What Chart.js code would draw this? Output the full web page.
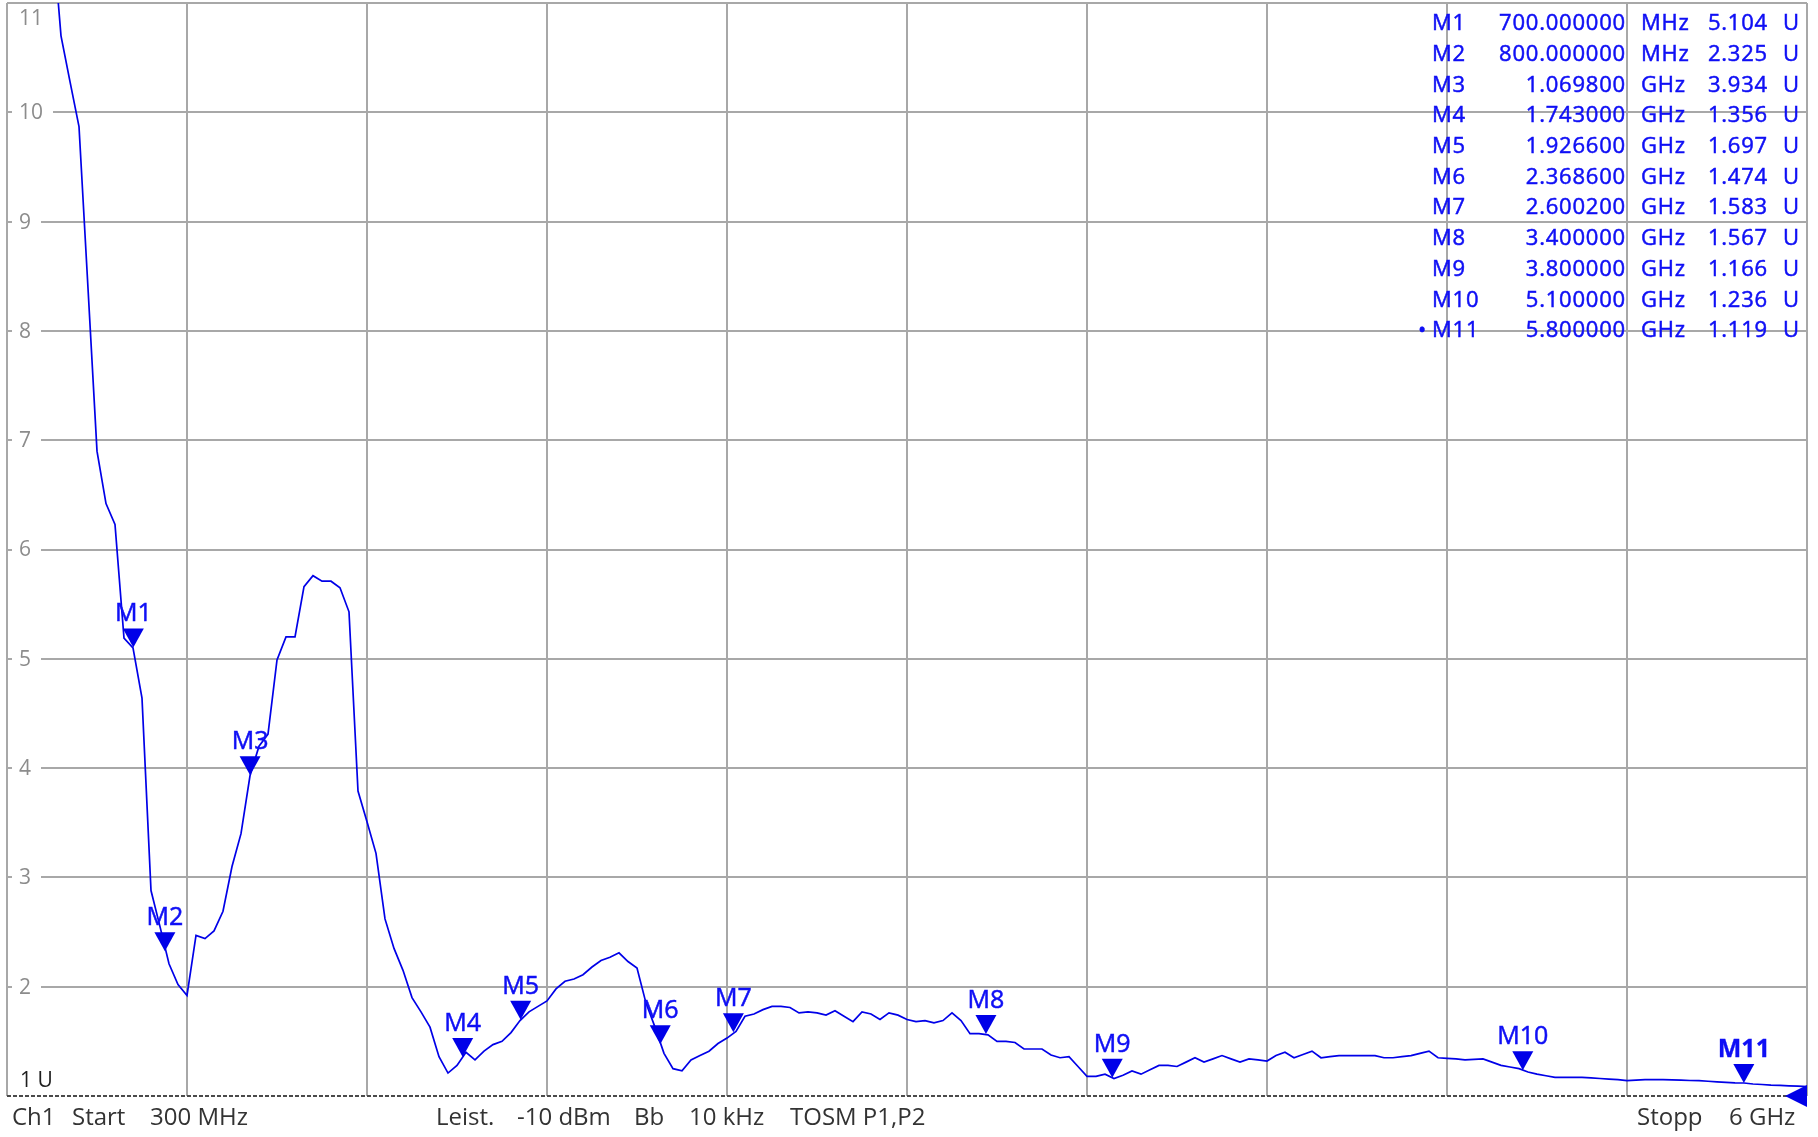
<!DOCTYPE html>
<html>
<head>
<meta charset="utf-8">
<script src="https://cdn.jsdelivr.net/npm/chart.js@4.4.1/dist/chart.umd.min.js"></script>
<style>
html,body{margin:0;padding:0;background:#fff;overflow:hidden}
#wrap{width:1818px;height:1137px;position:relative}
</style>
</head>
<body>
<div id="wrap"><canvas id="c" width="1818" height="1137"></canvas></div>
<script>
// ---- sweep definition ----
const sweepStartMHz = 300;
const sweepStopMHz = 6000;
const sweepPoints = 201;
const xDivisions = 10;
const yMin = 1;
const yMax = 11;

// ---- trace values (VSWR, U) per sweep point; first points are above the top of the screen ----
const vswr = [
  null,null,null,null,null,11.7,10.70,10.28,9.87,8.39,
  6.90,6.42,6.23,5.19,5.10,4.64,2.88,2.55,2.21,2.02,
  1.92,2.47,2.44,2.51,2.69,3.10,3.40,3.93,4.20,4.31,
  4.99,5.20,5.20,5.66,5.76,5.71,5.71,5.65,5.43,3.79,
  3.51,3.22,2.62,2.35,2.15,1.90,1.77,1.63,1.36,1.21,
  1.28,1.40,1.33,1.41,1.47,1.50,1.58,1.69,1.77,1.82,
  1.87,1.98,2.05,2.07,2.11,2.18,2.24,2.27,2.31,2.23,
  2.17,1.85,1.63,1.39,1.25,1.23,1.33,1.37,1.41,1.48,
  1.53,1.59,1.73,1.75,1.79,1.82,1.82,1.81,1.76,1.77,
  1.76,1.74,1.78,1.73,1.68,1.77,1.75,1.70,1.76,1.74,
  1.70,1.68,1.69,1.67,1.69,1.76,1.69,1.57,1.57,1.56,
  1.50,1.50,1.49,1.43,1.43,1.43,1.375,1.35,1.36,1.27,
  1.18,1.18,1.20,1.16,1.19,1.23,1.20,1.24,1.28,1.28,
  1.27,1.31,1.35,1.31,1.34,1.37,1.34,1.31,1.34,1.33,
  1.32,1.37,1.40,1.35,1.38,1.41,1.35,1.36,1.37,1.37,
  1.37,1.37,1.37,1.35,1.35,1.36,1.37,1.39,1.41,1.35,
  1.345,1.34,1.33,1.335,1.34,1.31,1.28,1.265,1.25,1.22,
  1.20,1.185,1.17,1.17,1.17,1.17,1.165,1.16,1.155,1.15,
  1.14,1.145,1.15,1.15,1.15,1.148,1.145,1.142,1.14,1.135,
  1.13,1.125,1.12,1.119,1.11,1.105,1.10,1.097,1.093,1.09,
  1.085
];

// ---- markers ----
const markerNames = ['M1','M2','M3','M4','M5','M6','M7','M8','M9','M10','M11'];
const markerFreqMHz = [700, 800, 1069.8, 1743, 1926.6, 2368.6, 2600.2, 3400, 3800, 5100, 5800];
const markerValues = [5.104, 2.325, 3.934, 1.356, 1.697, 1.474, 1.583, 1.567, 1.166, 1.236, 1.119];
const activeMarker = 'M11';

// ---- axis / footer texts ----
const yTickLabels = ['1 U','2','3','4','5','6','7','8','9','10','11'];
const footerTexts = ['Ch1','Start','300 MHz','Leist.','-10 dBm','Bb','10 kHz','TOSM P1,P2','Stopp','6 GHz'];
const footerX = [12, 72, 150, 436, 517, 634, 689, 790, 1637, 1729];

const FONT = "'Open Sans','Noto Sans',sans-serif";
const BLUE = '#0000e8';
const TEXT_BLUE = '#0f0ff5';

const step = (sweepStopMHz - sweepStartMHz) / (sweepPoints - 1);
const traceData = vswr.map((v, i) => ({x: sweepStartMHz + i * step, y: v}));

function heavyText(ctx, txt, x, y, w) {
  ctx.fillText(txt, x, y);
  ctx.lineWidth = w;
  ctx.strokeStyle = ctx.fillStyle;
  ctx.strokeText(txt, x, y);
}

const overlay = {
  id: 'overlay',
  afterDatasetsDraw(chart) {
    const ctx = chart.ctx;
    const xs = chart.scales.x, ys = chart.scales.y;
    const area = chart.chartArea;
    ctx.save();

    // bottom reference dashed line (1 U)
    const y1 = Math.round(ys.getPixelForValue(yMin));
    ctx.strokeStyle = '#4a4a4a';
    ctx.lineWidth = 2;
    ctx.setLineDash([4, 2]);
    ctx.beginPath();
    ctx.moveTo(area.left, y1);
    ctx.lineTo(area.right, y1);
    ctx.stroke();
    ctx.setLineDash([]);

    // y tick labels
    ctx.font = '21px ' + FONT;
    ctx.textBaseline = 'middle';
    ctx.textAlign = 'left';
    for (let v = yMin + 1; v <= yMax; v++) {
      const lab = yTickLabels[v - yMin];
      let py = ys.getPixelForValue(v);
      const w = ctx.measureText(lab).width;
      if (v === yMax) {
        py = area.top + 15;
      } else {
        ctx.fillStyle = '#ffffff';
        ctx.fillRect(area.left + 5, py - 4, 12 + w + 5, 8);
      }
      ctx.fillStyle = '#8c8c8c';
      ctx.fillText(lab, area.left + 12, py + 1);
    }
    ctx.fillStyle = '#1e1e1e';
    ctx.fillText(yTickLabels[0], area.left + 13, y1 - 15);

    // markers
    for (let i = 0; i < markerNames.length; i++) {
      const px = xs.getPixelForValue(markerFreqMHz[i]);
      const py = ys.getPixelForValue(markerValues[i]);
      ctx.fillStyle = BLUE;
      ctx.beginPath();
      ctx.moveTo(px - 10.5, py - 19);
      ctx.lineTo(px + 10.5, py - 19);
      ctx.lineTo(px, py);
      ctx.closePath();
      ctx.fill();
      const active = markerNames[i] === activeMarker;
      ctx.font = (active ? 'bold ' : '') + '25px ' + FONT;
      ctx.textAlign = 'center';
      ctx.textBaseline = 'alphabetic';
      ctx.fillStyle = TEXT_BLUE;
      heavyText(ctx, markerNames[i], px, py - 26, active ? 0.3 : 0.5);
    }

    // reference level arrow at right edge
    ctx.fillStyle = BLUE;
    ctx.beginPath();
    ctx.moveTo(area.right - 22, y1);
    ctx.lineTo(area.right, y1 - 11);
    ctx.lineTo(area.right, y1 + 11);
    ctx.closePath();
    ctx.fill();

    // marker table
    ctx.font = '22px ' + FONT;
    ctx.textBaseline = 'middle';
    ctx.fillStyle = TEXT_BLUE;
    try { ctx.letterSpacing = '0.8px'; } catch (e) {}
    for (let i = 0; i < markerNames.length; i++) {
      const ry = 24 + 30.7 * i;
      const f = markerFreqMHz[i];
      const fTxt = f < 1000 ? f.toFixed(6) : (f / 1000).toFixed(6);
      const unit = f < 1000 ? 'MHz' : 'GHz';
      ctx.textAlign = 'left';
      heavyText(ctx, markerNames[i], 1432, ry, 0.5);
      if (markerNames[i] === activeMarker) heavyText(ctx, '\u2022', 1418, ry, 0.5);
      ctx.textAlign = 'right';
      heavyText(ctx, fTxt, 1626, ry, 0.5);
      ctx.textAlign = 'left';
      heavyText(ctx, unit, 1641, ry, 0.5);
      ctx.textAlign = 'right';
      heavyText(ctx, markerValues[i].toFixed(3), 1768, ry, 0.5);
      ctx.textAlign = 'left';
      heavyText(ctx, 'U', 1783, ry, 0.5);
    }
    try { ctx.letterSpacing = '0px'; } catch (e) {}

    // footer
    ctx.font = '24px ' + FONT;
    ctx.fillStyle = '#333333';
    ctx.textAlign = 'left';
    ctx.textBaseline = 'middle';
    for (let i = 0; i < footerTexts.length; i++) {
      ctx.fillText(footerTexts[i], footerX[i], 1118);
    }
    ctx.restore();
  }
};

new Chart(document.getElementById('c'), {
  type: 'line',
  data: {
    datasets: [{
      data: traceData,
      borderColor: BLUE,
      borderWidth: 1.7,
      pointRadius: 0,
      tension: 0,
      fill: false,
      spanGaps: false,
      clip: 0
    }]
  },
  options: {
    responsive: false,
    devicePixelRatio: 1,
    animation: false,
    events: [],
    layout: {padding: {left: 7, top: 3, right: 11, bottom: 41}},
    plugins: {legend: {display: false}, tooltip: {enabled: false}, title: {display: false}},
    scales: {
      x: {
        type: 'linear',
        min: sweepStartMHz,
        max: sweepStopMHz,
        ticks: {display: false, stepSize: (sweepStopMHz - sweepStartMHz) / xDivisions},
        grid: {color: '#a8a8a8', lineWidth: 2, drawTicks: false},
        border: {display: false},
        afterFit(s) { s.height = 0; }
      },
      y: {
        type: 'linear',
        min: yMin,
        max: yMax,
        ticks: {display: false, stepSize: 1},
        grid: {
          color: (c) => (c.tick && c.tick.value === yMin) ? 'rgba(0,0,0,0)' : '#a8a8a8',
          lineWidth: 2,
          drawTicks: false
        },
        border: {display: false},
        afterFit(s) { s.width = 0; }
      }
    }
  },
  plugins: [overlay]
});
</script>
</body>
</html>
